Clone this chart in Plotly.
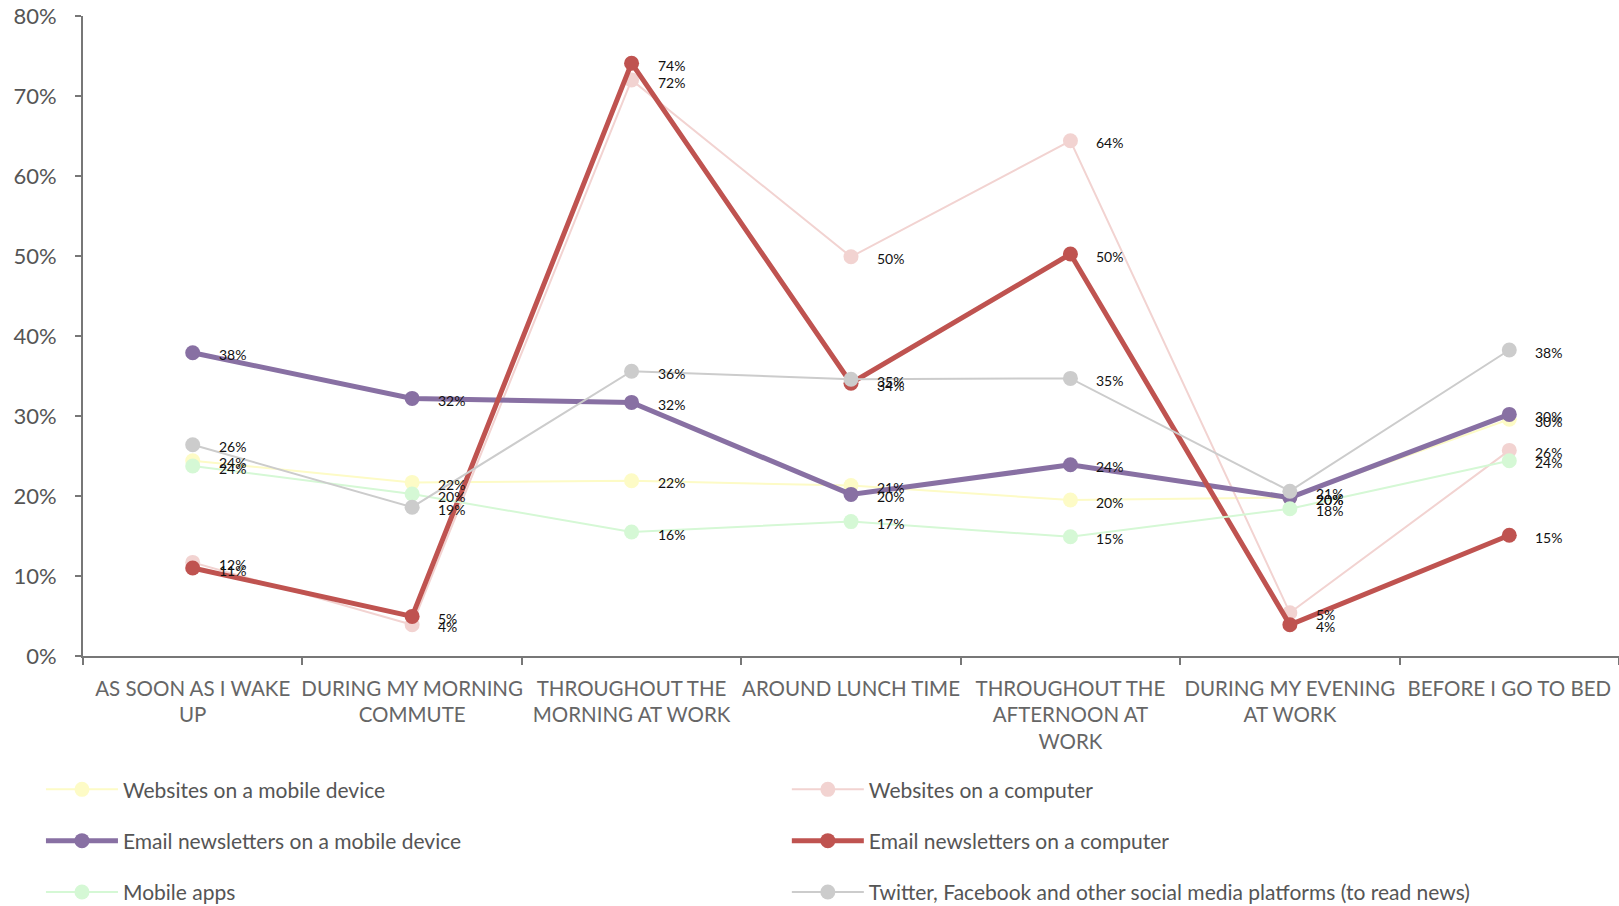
import plotly.graph_objects as go

# Times of day (x categories)
times = [
    "AS SOON AS I WAKE<br>UP",
    "DURING MY MORNING<br>COMMUTE",
    "THROUGHOUT THE<br>MORNING AT WORK",
    "AROUND LUNCH TIME",
    "THROUGHOUT THE<br>AFTERNOON AT<br>WORK",
    "DURING MY EVENING<br>AT WORK",
    "BEFORE I GO TO BED",
]

# Share of respondents (%) per channel
websites_mobile = [24.4, 21.7, 21.9, 21.3, 19.5, 19.8, 29.6]
websites_computer = [11.7, 3.9, 72.0, 49.9, 64.4, 5.4, 25.7]
email_mobile = [37.9, 32.2, 31.7, 20.2, 23.9, 19.8, 30.2]
email_computer = [11.0, 4.95, 74.1, 34.1, 50.25, 3.9, 15.1]
mobile_apps = [23.75, 20.25, 15.5, 16.8, 14.9, 18.4, 24.4]
social_media = [26.4, 18.6, 35.6, 34.6, 34.7, 20.6, 38.25]

y_ticks = [0, 10, 20, 30, 40, 50, 60, 70, 80]
y_tick_labels = [f"{v}%" for v in y_ticks]

series = [
    ("Websites on a mobile device", websites_mobile, "#fdfbc6", 2, "legend"),
    ("Websites on a computer", websites_computer, "#f2d3d1", 2, "legend2"),
    ("Email newsletters on a mobile device", email_mobile, "#8870a3", 5, "legend"),
    ("Email newsletters on a computer", email_computer, "#bf5350", 5, "legend2"),
    ("Mobile apps", mobile_apps, "#d5f8d5", 2, "legend"),
    ("Twitter, Facebook and other social media platforms (to read news)",
     social_media, "#cccccc", 2, "legend2"),
]

fig = go.Figure()
annotations = []
for i, (name, vals, color, width, leg) in enumerate(series):
    fig.add_trace(go.Scatter(
        x=times, y=vals, name=name, mode="lines+markers",
        line=dict(color=color, width=width),
        marker=dict(color=color, size=15),
        legend=leg, legendgroup=name,
    ))
    for t, v in zip(times, vals):
        annotations.append(dict(
            x=t, y=v, xref="x", yref="y", text=f"{round(v)}%",
            showarrow=False, xanchor="left", yanchor="middle",
            xshift=24, yshift=-2,
            font=dict(family="Lato, sans-serif", size=14, color="#111111"),
        ))

legend_style = dict(
    orientation="v", xref="container", yref="container",
    xanchor="left", yanchor="top", tracegroupgap=21,
    bgcolor="rgba(0,0,0,0)",
    font=dict(family="Lato, sans-serif", size=21, color="#555555"),
    itemwidth=72,
)

fig.update_layout(
    width=1619, height=906,
    margin=dict(l=83, r=0, t=16, b=250, autoexpand=False),
    paper_bgcolor="white", plot_bgcolor="white",
    showlegend=True,
    legend=dict(x=0.0253, y=0.151, **legend_style),
    legend2=dict(x=0.486, y=0.151, **legend_style),
    annotations=annotations,
    xaxis=dict(
        type="category", categoryorder="array", categoryarray=times,
        range=[-0.5, 6.5], showgrid=False, zeroline=False,
        showline=True, linecolor="#777777", linewidth=2,
        ticks="outside", tickson="boundaries", ticklen=7,
        tickcolor="#777777", tickwidth=2, tickangle=0, automargin=False,
        ticklabelstandoff=13,
        tickfont=dict(family="Lato, sans-serif", size=20.5, color="#666666"),
    ),
    yaxis=dict(
        range=[0, 80], tickmode="array", tickvals=y_ticks,
        ticktext=y_tick_labels, automargin=False,
        showgrid=False, zeroline=False,
        showline=True, linecolor="#777777", linewidth=2,
        ticks="outside", ticklen=6, tickcolor="#777777", tickwidth=2,
        ticklabelstandoff=14,
        tickfont=dict(family="Lato, sans-serif", size=22, color="#555555"),
    ),
)

fig.write_html("out.html")
